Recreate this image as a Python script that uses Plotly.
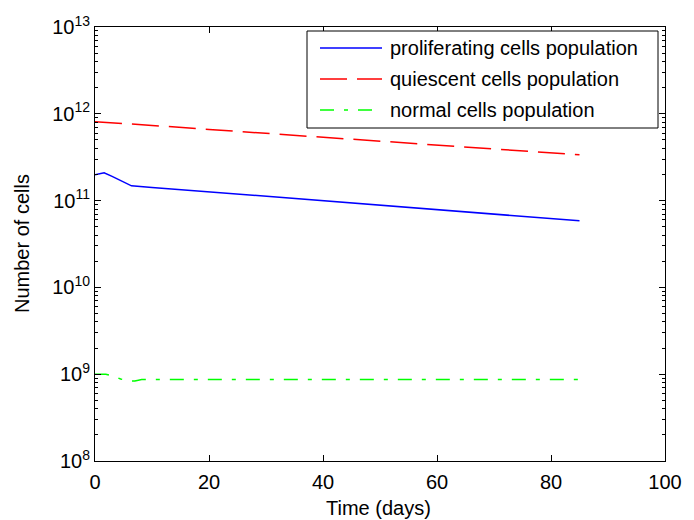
import plotly.graph_objects as go

# ---- data ----
days_prolif = [0, 1.6, 3, 4.5, 6.4, 10, 20, 30, 40, 50, 60, 70, 80, 85]
prolif = [1.98e11, 2.09e11, 1.9e11, 1.7e11, 1.48e11, 1.42e11, 1.26e11, 1.12e11,
          9.9e10, 8.8e10, 7.8e10, 6.9e10, 6.15e10, 5.85e10]
days_quies = [0, 5, 10, 20, 30, 40, 50, 60, 70, 80, 85]
quies = [8.1e11, 7.75e11, 7.35e11, 6.6e11, 5.95e11, 5.35e11, 4.85e11, 4.35e11, 3.9e11, 3.52e11, 3.37e11]
days_normal = [0, 1.9, 3, 4.5, 5.8, 7, 8.2, 10, 20, 40, 60, 85]
normal = [1.0e9, 1.0e9, 9.6e8, 8.8e8, 8.4e8, 8.35e8, 8.7e8, 8.7e8, 8.7e8, 8.7e8, 8.7e8, 8.7e8]

series_names = ["proliferating cells population", "quiescent cells population", "normal cells population"]
y_tick_exps = [8, 9, 10, 11, 12, 13]
x_ticks = [0, 20, 40, 60, 80, 100]

FONT = "Liberation Sans, Arial, sans-serif"
FS = 20
LW = 1.5
colors = ["#0000ff", "#ff0000", "#00ff00"]
dashes = ["solid", "27px,10px", "14px,10px,4px,10px"]

fig = go.Figure()
for xs, ys, name, c, d in zip([days_prolif, days_quies, days_normal], [prolif, quies, normal],
                              series_names, colors, dashes):
    fig.add_trace(go.Scatter(x=xs, y=ys, mode="lines", name=name, showlegend=False,
                             line=dict(color=c, width=LW, dash=d)))

axis_common = dict(showline=True, linecolor="black", linewidth=1, mirror="ticks",
                   ticks="inside", tickcolor="black", showgrid=False, zeroline=False,
                   automargin=False,
                   tickfont=dict(family=FONT, size=FS, color="black"))

# page body has an 8px margin; figure placed so the axes box lands at x 95..665, y 27..461
fig.update_layout(
    width=686, height=512,
    margin=dict(l=87, r=29, t=19, b=59),
    paper_bgcolor="white", plot_bgcolor="white",
    font=dict(family=FONT, size=FS, color="black"),
    xaxis=dict(range=[0, 100], tickvals=x_ticks, ticklen=6, ticklabelstandoff=3,
               **axis_common),
    yaxis=dict(type="log", range=[8, 13],
               tickvals=[10 ** e for e in y_tick_exps],
               ticktext=[f"10<sup>{e}</sup>" for e in y_tick_exps], ticklen=6,
               minor=dict(ticks="inside", ticklen=3, tickcolor="black",
                          tickvals=[m * 10 ** e for e in y_tick_exps[:-1] for m in range(2, 10)]),
               **axis_common),
    showlegend=False,
)

# helpers: page pixel -> paper coords of plot area (page x 95..665, y 27..461)
def px(x):
    return (x - 95) / 570.0

def py(y):
    return (461 - y) / 434.0

# axis titles
fig.add_annotation(xref="paper", yref="paper", x=px(22), y=py(244), text="Number of cells", showarrow=False,
                   textangle=-90, xanchor="center", yanchor="middle",
                   font=dict(family=FONT, size=FS, color="black"))
fig.add_annotation(xref="paper", yref="paper", x=px(378), y=py(508), text="Time (days)", showarrow=False,
                   xanchor="center", yanchor="middle",
                   font=dict(family=FONT, size=FS, color="black"))

# legend
fig.add_shape(type="rect", xref="paper", yref="paper", x0=px(307), x1=px(658), y0=py(128), y1=py(31),
              line=dict(color="black", width=1), fillcolor="white", layer="above")
rows = [48, 79, 110]
for name, c, d, yr in zip(series_names, colors, dashes, rows):
    fig.add_shape(type="line", xref="paper", yref="paper", x0=px(320), x1=px(382), y0=py(yr), y1=py(yr),
                  line=dict(color=c, width=LW, dash=d), layer="above")
    fig.add_annotation(xref="paper", yref="paper", x=px(388), y=py(yr), text=name, showarrow=False,
                       xanchor="left", yanchor="middle", font=dict(family=FONT, size=FS, color="black"))

fig.write_html("out.html")
